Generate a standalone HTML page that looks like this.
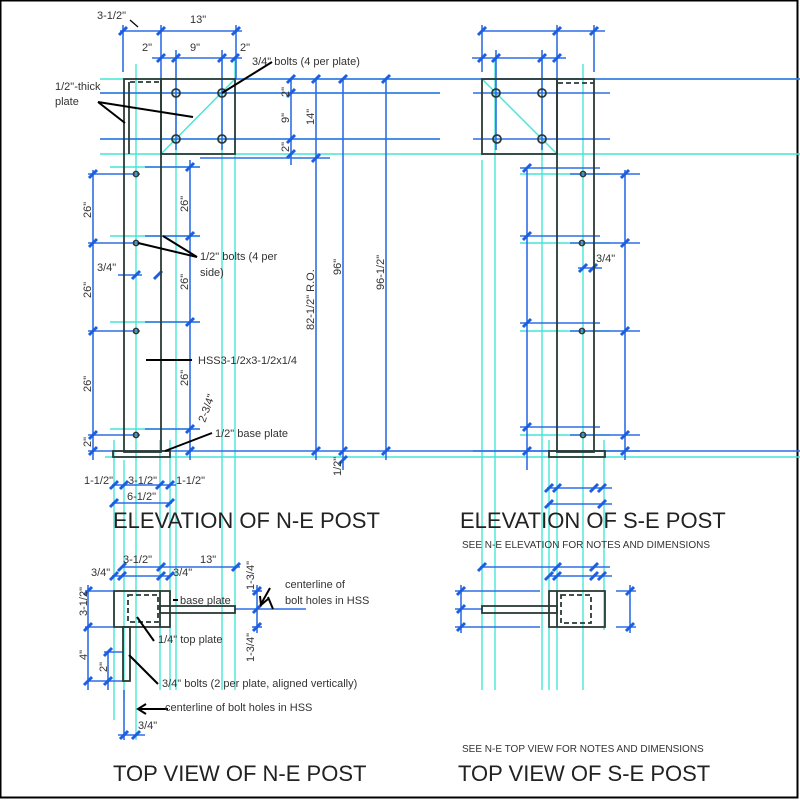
<!DOCTYPE html>
<html><head><meta charset="utf-8"><style>
html,body{margin:0;padding:0;background:#fff}
svg{display:block}
text{font-family:"Liberation Sans",sans-serif;fill:#333}
.b{stroke:#2f6ee6;stroke-width:1.6;fill:none}
.c{stroke:#44e6d6;stroke-width:1.4;fill:none}
.k{stroke:#2b3b36;stroke-width:1.8;fill:none}
.t{stroke:#1e5fe0;stroke-width:3;fill:none}
.l{stroke:#000;stroke-width:2;fill:none}
.s{font-size:11px}
.h{font-size:22px;fill:#222}
</style></head><body>
<svg width="800" height="800" viewBox="0 0 800 800" xmlns="http://www.w3.org/2000/svg">
<rect x="0.5" y="0.5" width="797" height="797" fill="#fff" stroke="#000" stroke-width="2"/>

<g class="c">
<line x1="100" y1="79" x2="800" y2="79"/><line x1="100" y1="154" x2="800" y2="154"/>
<line x1="100" y1="93" x2="440" y2="93"/><line x1="100" y1="139" x2="440" y2="139"/>
<line x1="136" y1="64" x2="136" y2="740"/>
<line x1="114" y1="440" x2="114" y2="720"/>
<line x1="124" y1="460" x2="124" y2="700"/>
<line x1="160" y1="440" x2="160" y2="690"/>
<line x1="170" y1="440" x2="170" y2="690"/>
<line x1="176" y1="60" x2="176" y2="690"/>
<line x1="222" y1="60" x2="222" y2="690"/>
<line x1="235" y1="60" x2="235" y2="690"/>
<line x1="161" y1="154" x2="235" y2="79"/>
<line x1="105" y1="457" x2="800" y2="457"/>
<line x1="110" y1="167" x2="200" y2="167"/><line x1="110" y1="236" x2="200" y2="236"/>
<line x1="110" y1="322" x2="200" y2="322"/><line x1="110" y1="429" x2="200" y2="429"/>
<line x1="482" y1="160" x2="482" y2="690"/>
<line x1="495" y1="60" x2="495" y2="690"/>
<line x1="542" y1="60" x2="542" y2="690"/>
<line x1="549" y1="440" x2="549" y2="690"/>
<line x1="557" y1="160" x2="557" y2="690"/>
<line x1="583" y1="64" x2="583" y2="690"/>
<line x1="604" y1="440" x2="604" y2="630"/>
<line x1="482" y1="79" x2="557" y2="154"/>
<line x1="520" y1="174" x2="610" y2="174"/><line x1="520" y1="243" x2="610" y2="243"/>
<line x1="520" y1="331" x2="610" y2="331"/><line x1="520" y1="435" x2="610" y2="435"/>
</g>

<g class="b">
<line x1="120" y1="31" x2="242" y2="31"/>
<line x1="152" y1="58" x2="242" y2="58"/>
<line x1="123" y1="25" x2="123" y2="72"/><line x1="161" y1="25" x2="161" y2="79"/><line x1="236" y1="25" x2="236" y2="79"/>
<line x1="176" y1="50" x2="176" y2="150"/><line x1="222" y1="50" x2="222" y2="150"/>
<line x1="100" y1="93" x2="440" y2="93"/><line x1="100" y1="139" x2="440" y2="139"/>
<line x1="236" y1="79" x2="800" y2="79"/>
<line x1="200" y1="158" x2="330" y2="158"/>
<line x1="291" y1="79" x2="291" y2="165"/>
<line x1="316" y1="79" x2="316" y2="460"/>
<line x1="343" y1="79" x2="343" y2="470"/>
<line x1="386" y1="79" x2="386" y2="460"/>
<line x1="93" y1="170" x2="93" y2="460"/>
<line x1="190" y1="160" x2="190" y2="460"/>
<line x1="88" y1="174" x2="140" y2="174"/><line x1="88" y1="243" x2="140" y2="243"/>
<line x1="88" y1="331" x2="140" y2="331"/><line x1="88" y1="435" x2="140" y2="435"/>
<line x1="145" y1="167" x2="200" y2="167"/><line x1="145" y1="236" x2="200" y2="236"/>
<line x1="145" y1="322" x2="200" y2="322"/><line x1="145" y1="429" x2="200" y2="429"/>
<line x1="88" y1="451" x2="800" y2="451"/>
<line x1="118" y1="275" x2="142" y2="275"/>
<line x1="112" y1="485" x2="176" y2="485"/>
<line x1="112" y1="503" x2="172" y2="503"/>
<line x1="482" y1="31" x2="605" y2="31"/>
<line x1="472" y1="58" x2="566" y2="58"/>
<line x1="482" y1="25" x2="482" y2="72"/><line x1="557" y1="25" x2="557" y2="79"/><line x1="594" y1="25" x2="594" y2="72"/>
<line x1="496" y1="50" x2="496" y2="150"/><line x1="542" y1="50" x2="542" y2="150"/>
<line x1="473" y1="93" x2="610" y2="93"/><line x1="473" y1="139" x2="610" y2="139"/>
<line x1="527" y1="170" x2="527" y2="470"/>
<line x1="625" y1="170" x2="625" y2="460"/>
<line x1="520" y1="168" x2="600" y2="168"/><line x1="520" y1="236" x2="600" y2="236"/>
<line x1="520" y1="323" x2="600" y2="323"/><line x1="520" y1="427" x2="600" y2="427"/>
<line x1="570" y1="174" x2="640" y2="174"/><line x1="570" y1="243" x2="640" y2="243"/>
<line x1="570" y1="331" x2="640" y2="331"/><line x1="570" y1="435" x2="640" y2="435"/>
<line x1="473" y1="451" x2="640" y2="451"/>
<line x1="578" y1="268" x2="602" y2="268"/>
<line x1="547" y1="488" x2="612" y2="488"/><line x1="547" y1="504" x2="612" y2="504"/>
<line x1="122" y1="567" x2="240" y2="567"/>
<line x1="112" y1="576" x2="170" y2="576"/>
<line x1="85" y1="591" x2="113" y2="591"/><line x1="85" y1="627" x2="113" y2="627"/>
<line x1="88" y1="681" x2="123" y2="681"/><line x1="104" y1="652" x2="123" y2="652"/>
<line x1="88" y1="585" x2="88" y2="690"/><line x1="108" y1="652" x2="108" y2="690"/>
<line x1="235" y1="609" x2="306" y2="609"/>
<line x1="252" y1="591" x2="262" y2="591"/><line x1="252" y1="627" x2="262" y2="627"/>
<line x1="257" y1="585" x2="257" y2="633"/>
<line x1="118" y1="735" x2="145" y2="735"/>
<line x1="124" y1="690" x2="124" y2="740"/>
<line x1="480" y1="567" x2="610" y2="567"/>
<line x1="548" y1="576" x2="612" y2="576"/>
<line x1="455" y1="591" x2="540" y2="591"/><line x1="455" y1="609" x2="482" y2="609"/><line x1="455" y1="627" x2="540" y2="627"/>
<line x1="461" y1="585" x2="461" y2="633"/>
<line x1="616" y1="591" x2="636" y2="591"/><line x1="616" y1="627" x2="636" y2="627"/>
<line x1="630" y1="585" x2="630" y2="633"/>
</g>

<g class="t">
<path d="M119 35l8-8M157 35l8-8M232 35l8-8M157 62l8-8M172 62l8-8M218 62l8-8M231 62l8-8
M287 83l8-8M287 97l8-8M287 143l8-8M287 158l8-8M312 83l8-8M312 162l8-8M339 83l8-8M382 83l8-8
M312 455l8-8M339 455l8-8M339 464l8-8M382 455l8-8
M89 178l8-8M89 247l8-8M89 335l8-8M89 439l8-8M89 455l8-8
M186 171l8-8M186 240l8-8M186 326l8-8M186 433l8-8M186 455l8-8
M132 279l8-8M154 279l8-8
M110 489l8-8M120 489l8-8M156 489l8-8M166 489l8-8M110 507l8-8M166 507l8-8
M478 35l8-8M553 35l8-8M590 35l8-8M478 62l8-8M492 62l8-8M538 62l8-8M553 62l8-8
M523 172l8-8M523 240l8-8M523 327l8-8M523 431l8-8M523 455l8-8
M621 178l8-8M621 247l8-8M621 335l8-8M621 439l8-8M621 455l8-8
M579 272l8-8M589 272l8-8
M545 492l8-8M553 492l8-8M590 492l8-8M598 492l8-8M545 508l8-8M598 508l8-8
M118 571l8-8M157 571l8-8M232 571l8-8M110 580l8-8M118 580l8-8M157 580l8-8M166 580l8-8
M84 595l8-8M84 631l8-8M84 685l8-8M104 656l8-8M104 685l8-8
M253 595l8-8M253 613l8-8M253 631l8-8M120 739l8-8M132 739l8-8
M478 571l8-8M553 571l8-8M590 571l8-8M545 580l8-8M553 580l8-8M590 580l8-8M598 580l8-8
M457 595l8-8M457 613l8-8M457 631l8-8M626 595l8-8M626 631l8-8"/>
</g>

<g class="k">
<rect x="124" y="79" width="37" height="373"/>
<rect x="161" y="79" width="74" height="75"/>
<line x1="129" y1="82" x2="129" y2="154"/>
<line x1="130" y1="82" x2="160" y2="82" stroke-dasharray="5,3"/>
<circle cx="176" cy="93" r="4"/><circle cx="222" cy="93" r="4"/><circle cx="176" cy="139" r="4"/><circle cx="222" cy="139" r="4"/>
<circle cx="136" cy="174" r="2.5"/><circle cx="136" cy="243" r="2.5"/><circle cx="136" cy="331" r="2.5"/><circle cx="136" cy="435" r="2.5"/>
<rect x="113" y="451" width="57" height="6"/>
<rect x="557" y="79" width="37" height="373"/>
<rect x="482" y="79" width="75" height="75"/>
<line x1="558" y1="83" x2="594" y2="83" stroke-dasharray="5,3"/>
<circle cx="496" cy="93" r="4"/><circle cx="542" cy="93" r="4"/><circle cx="497" cy="139" r="4"/><circle cx="542" cy="139" r="4"/>
<circle cx="583" cy="174" r="2.5"/><circle cx="582" cy="243" r="2.5"/><circle cx="582" cy="331" r="2.5"/><circle cx="583" cy="435" r="2.5"/>
<rect x="549" y="451" width="56" height="6"/>
<rect x="114" y="591" width="56" height="36"/>
<line x1="160" y1="591" x2="160" y2="627"/>
<rect x="128" y="595" width="30" height="27" stroke-dasharray="5,3"/>
<rect x="160" y="606" width="75" height="7"/>
<rect x="123" y="627" width="7" height="54"/>
<rect x="549" y="591" width="56" height="36"/>
<line x1="557" y1="591" x2="557" y2="627"/>
<rect x="561" y="595" width="30" height="28" stroke-dasharray="5,3"/>
<rect x="482" y="606" width="75" height="7"/>
</g>

<g class="l">
<line x1="130" y1="20" x2="138" y2="27" stroke-width="1.2"/>
<line x1="98" y1="102" x2="125" y2="123"/><line x1="98" y1="102" x2="193" y2="117"/>
<line x1="222" y1="93" x2="272" y2="62"/>
<line x1="138" y1="243" x2="197" y2="257"/><line x1="163" y1="236" x2="197" y2="257"/>
<line x1="146" y1="360" x2="192" y2="360"/>
<line x1="165" y1="451" x2="212" y2="433"/>
<line x1="173" y1="600" x2="178" y2="600"/>
<line x1="137" y1="617" x2="154" y2="641"/>
<line x1="129" y1="655" x2="158" y2="684"/>
<line x1="268" y1="597" x2="273" y2="609"/>
<path d="M138 709h30" /><path d="M146 704l-8 5 8 5"/>
<path d="M270 588l-9 16"/><path d="M260 596l1 9 7-6"/>
</g>

<g class="s">
<text x="97" y="19">3-1/2"</text>
<text x="190" y="23">13"</text>
<text x="142" y="51">2"</text><text x="190" y="51">9"</text><text x="240" y="51">2"</text>
<text x="252" y="65">3/4" bolts (4 per plate)</text>
<text x="55" y="90">1/2"-thick</text><text x="55" y="105">plate</text>
<text x="200" y="260">1/2" bolts (4 per</text><text x="200" y="276">side)</text>
<text x="97" y="271">3/4"</text>
<text x="198" y="364">HSS3-1/2x3-1/2x1/4</text>
<text x="215" y="437">1/2" base plate</text>
<text x="84" y="484">1-1/2"</text><text x="128" y="484">3-1/2"</text><text x="176" y="484">1-1/2"</text>
<text x="127" y="500">6-1/2"</text>
<text x="596" y="262">3/4"</text>
<text x="123" y="563">3-1/2"</text><text x="200" y="563">13"</text>
<text x="91" y="576">3/4"</text><text x="173" y="576">3/4"</text>
<text x="180" y="604">base plate</text>
<text x="285" y="588">centerline of</text><text x="285" y="604">bolt holes in HSS</text>
<text x="158" y="643">1/4" top plate</text>
<text x="162" y="687">3/4" bolts (2 per plate, aligned vertically)</text>
<text x="165" y="711">centerline of bolt holes in HSS</text>
<text x="138" y="729">3/4"</text>
</g>
<g class="s">
<text transform="translate(91,218) rotate(-90)">26"</text>
<text transform="translate(91,298) rotate(-90)">26"</text>
<text transform="translate(91,392) rotate(-90)">26"</text>
<text transform="translate(91,447) rotate(-90)">2"</text>
<text transform="translate(188,212) rotate(-90)">26"</text>
<text transform="translate(188,290) rotate(-90)">26"</text>
<text transform="translate(188,386) rotate(-90)">26"</text>
<text transform="translate(205,423) rotate(-70)">2-3/4"</text>
<text transform="translate(289,97) rotate(-90)">2"</text>
<text transform="translate(289,123) rotate(-90)">9"</text>
<text transform="translate(289,152) rotate(-90)">2"</text>
<text transform="translate(314,125) rotate(-90)">14"</text>
<text transform="translate(314,330) rotate(-90)">82-1/2" R.O.</text>
<text transform="translate(341,275) rotate(-90)">96"</text>
<text transform="translate(384,290) rotate(-90)">96-1/2"</text>
<text transform="translate(341,476) rotate(-90)">1/2"</text>
<text transform="translate(87,616) rotate(-90)">3-1/2"</text>
<text transform="translate(87,660) rotate(-90)">4"</text>
<text transform="translate(107,672) rotate(-90)">2"</text>
<text transform="translate(254,590) rotate(-90)">1-3/4"</text>
<text transform="translate(254,662) rotate(-90)">1-3/4"</text>
</g>
<text class="h" x="113" y="528">ELEVATION OF N-E POST</text>
<text class="h" x="460" y="528">ELEVATION OF S-E POST</text>
<text x="462" y="548" style="font-size:10px">SEE N-E ELEVATION FOR NOTES AND DIMENSIONS</text>
<text x="462" y="752" style="font-size:10px">SEE N-E TOP VIEW FOR NOTES AND DIMENSIONS</text>
<text class="h" x="113" y="781">TOP VIEW OF N-E POST</text>
<text class="h" x="458" y="781">TOP VIEW OF S-E POST</text>
</svg>
</body></html>
